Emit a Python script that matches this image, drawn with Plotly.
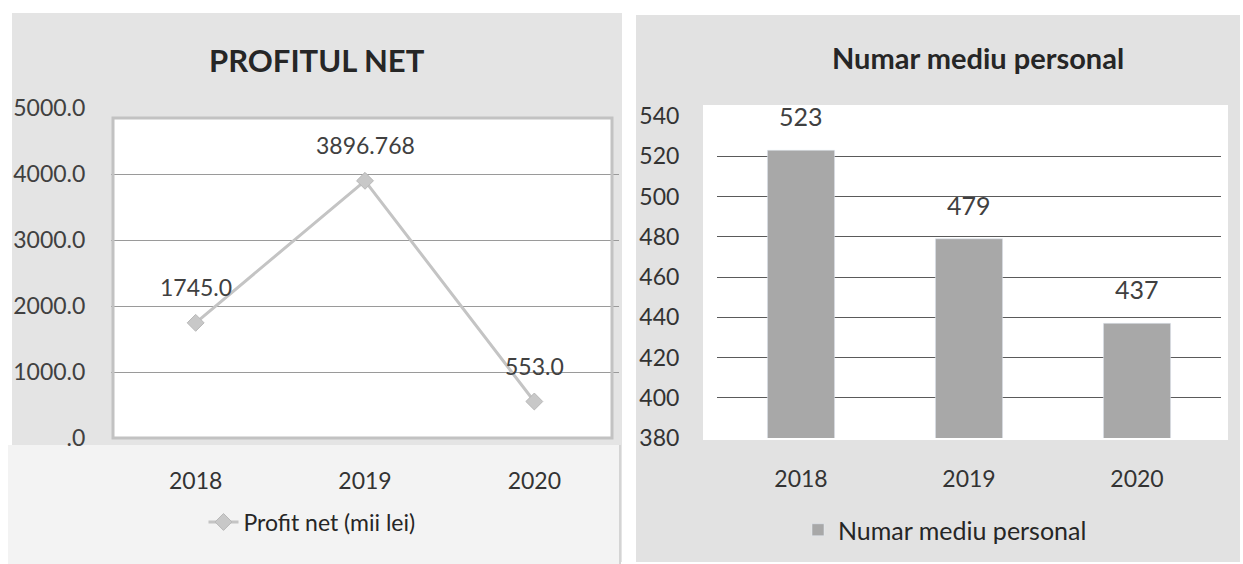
import plotly.graph_objects as go

years = [2018, 2019, 2020]
year_labels = ["2018", "2019", "2020"]
profit = [1745.0, 3896.768, 553.0]
profit_labels = ["1745.0", "3896.768", "553.0"]
profit_ticks = [0, 1000, 2000, 3000, 4000, 5000]
profit_tick_text = [".0", "1000.0", "2000.0", "3000.0", "4000.0", "5000.0"]

staff = [523, 479, 437]
staff_labels = ["523", "479", "437"]
staff_ticks = [380, 400, 420, 440, 460, 480, 500, 520, 540]

FONT = "Lato, 'Open Sans', sans-serif"
TXT = "#404040"
W, H = 1243, 564

def px(x):
    return x / W

def py(y):
    return 1 - y / H

fig = go.Figure()

fig.add_trace(go.Scatter(
    x=years, y=profit, mode="lines+markers", name="Profit net (mii lei)",
    line=dict(color="#c4c4c4", width=3),
    marker=dict(symbol="diamond", size=13, color="#c8c8c8", line=dict(color="#b8b8b8", width=1)),
    xaxis="x", yaxis="y", legend="legend",
))
fig.add_trace(go.Bar(
    x=years, y=staff, name="Numar mediu personal",
    marker=dict(color="#a8a8a8"),
    xaxis="x2", yaxis="y2", legend="legend2",
))

for xv, yv, t in zip(years, profit, profit_labels):
    fig.add_annotation(x=xv, y=yv, xref="x", yref="y", text=t, showarrow=False,
                       yshift=36, font=dict(family=FONT, size=23, color=TXT))
for xv, yv, t in zip(years, staff, staff_labels):
    fig.add_annotation(x=xv, y=yv, xref="x2", yref="y2", text=t, showarrow=False,
                       yshift=34, font=dict(family=FONT, size=25, color=TXT))

fig.add_annotation(x=px(317), y=py(60), xref="paper", yref="paper", text="<b>PROFITUL NET</b>",
                   xanchor="center", yanchor="middle",
                   showarrow=False, font=dict(family=FONT, size=31, color="#262626"))
fig.add_annotation(x=px(978), y=py(57), xref="paper", yref="paper", text="<b>Numar mediu personal</b>",
                   xanchor="center", yanchor="middle",
                   showarrow=False, font=dict(family=FONT, size=29, color="#262626"))

# panel backgrounds
fig.add_shape(type="rect", xref="paper", yref="paper", x0=px(12), x1=px(622), y0=py(562), y1=py(13),
              fillcolor="#e4e4e4", line=dict(width=0), layer="below")
fig.add_shape(type="rect", xref="paper", yref="paper", x0=px(8), x1=px(620), y0=py(564), y1=py(445),
              fillcolor="#f3f3f3", line=dict(width=0), layer="below")
fig.add_shape(type="line", xref="paper", yref="paper", x0=px(620), x1=px(620), y0=py(564), y1=py(445),
              line=dict(color="#d4d4d4", width=2), layer="below")
fig.add_shape(type="rect", xref="paper", yref="paper", x0=px(636), x1=px(1240), y0=py(562), y1=py(15),
              fillcolor="#e2e2e2", line=dict(width=0), layer="below")
# white plot areas
fig.add_shape(type="rect", xref="paper", yref="paper", x0=px(113), x1=px(612), y0=py(438), y1=py(118),
              fillcolor="white", line=dict(width=0), layer="below")
fig.add_shape(type="rect", xref="paper", yref="paper", x0=px(703), x1=px(1228), y0=py(440), y1=py(105),
              fillcolor="white", line=dict(width=0), layer="below")
# left plot frame
fig.add_shape(type="rect", xref="paper", yref="paper", x0=px(113), x1=px(612), y0=py(438), y1=py(118),
              line=dict(color="#c2c2c2", width=3))

fig.update_layout(
    width=W, height=H, margin=dict(l=0, r=0, t=0, b=0, autoexpand=False),
    paper_bgcolor="white", plot_bgcolor="rgba(0,0,0,0)",
    font=dict(family=FONT, color=TXT),
    bargap=0.6,
    xaxis=dict(domain=[px(111), px(619)], anchor="y", range=[2017.5, 2020.5],
               tickvals=years, ticktext=year_labels, showline=False, showgrid=False,
               zeroline=False, ticks="outside", ticklen=22, tickcolor="rgba(0,0,0,0)",
               tickfont=dict(size=23, color="#333333")),
    yaxis=dict(domain=[py(438), py(108)], anchor="x", range=[0, 5000], tickvals=profit_ticks,
               ticktext=profit_tick_text, showgrid=True, gridcolor="#9a9a9a", gridwidth=1,
               zeroline=False, showline=False, ticks="outside", ticklen=20,
               tickcolor="rgba(0,0,0,0)", tickfont=dict(size=23, color=TXT)),
    xaxis2=dict(domain=[px(717), px(1221)], anchor="y2", range=[2017.5, 2020.5],
                tickvals=years, ticktext=year_labels, showline=False, showgrid=False,
                zeroline=False, ticks="outside", ticklen=20, tickcolor="rgba(0,0,0,0)",
                tickfont=dict(size=23, color="#333333")),
    yaxis2=dict(domain=[py(438), py(116)], anchor="x2", range=[380, 540], tickvals=staff_ticks,
                showgrid=True, gridcolor="#5a5a5a", gridwidth=1, zeroline=False, showline=False,
                ticks="outside", ticklen=32, tickcolor="rgba(0,0,0,0)",
                tickfont=dict(size=23, color="#333333")),
    legend=dict(x=px(312), y=py(522), xanchor="center", yanchor="middle", orientation="h",
                bgcolor="rgba(0,0,0,0)", font=dict(family=FONT, size=23, color="#262626")),
    legend2=dict(x=px(945), y=py(530), xanchor="center", yanchor="middle", orientation="h",
                 bgcolor="rgba(0,0,0,0)", font=dict(family=FONT, size=25, color="#262626")),
    showlegend=True,
)

fig.write_html("out.html")
